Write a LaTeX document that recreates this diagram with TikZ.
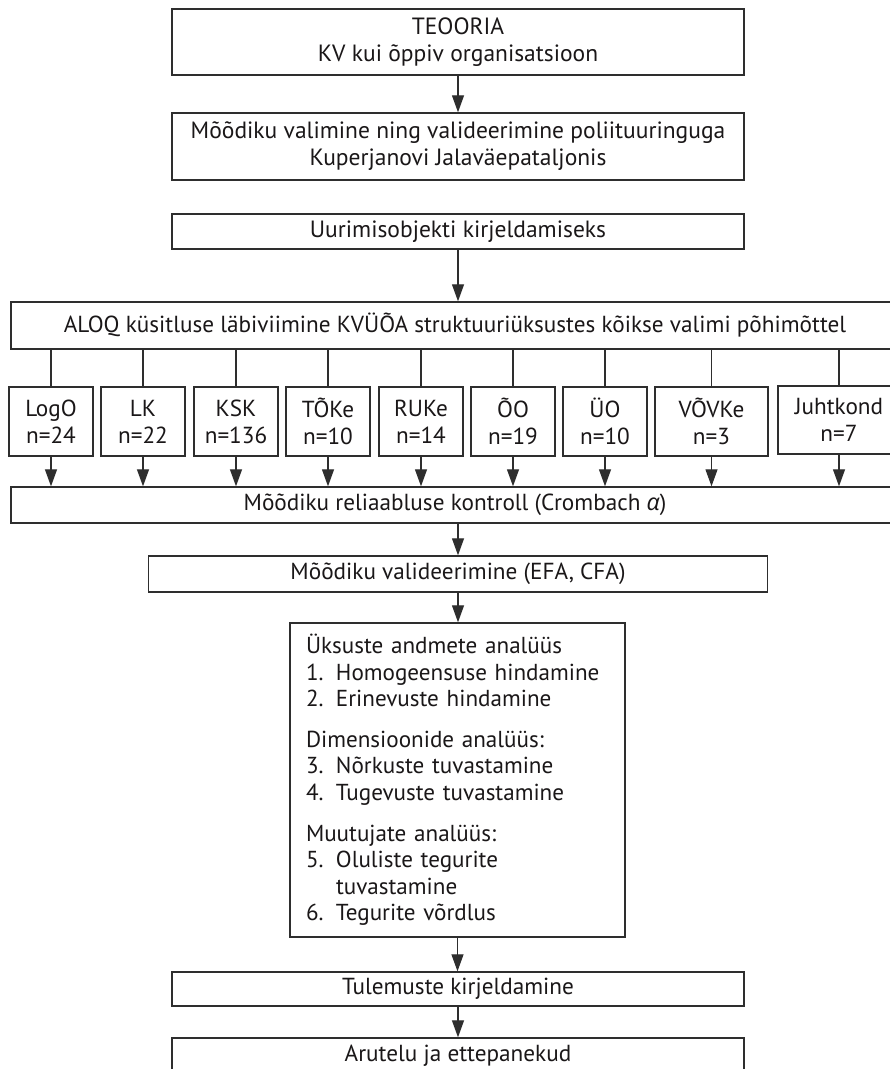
\documentclass[tikz,border=0pt]{standalone}
\usepackage{fontspec}
\setmainfont{PT Sans}
\newfontfamily\grkfont{Open Sans}
\usetikzlibrary{arrows.meta}
\definecolor{linec}{HTML}{2E2E2E}
\definecolor{txtc}{HTML}{1A1718}
\newcommand{\mainfs}{\fontsize{23.3}{27}\selectfont}
\newcommand{\topfs}{\fontsize{23.6}{27}\selectfont}
\newcommand{\anafs}{\fontsize{23.2}{26.7}\selectfont}
\newcommand{\itm}[1]{\makebox[30bp][l]{#1}}
\begin{document}
\begin{tikzpicture}[x=1bp,y=-1bp,
  box/.style={draw=linec, line width=1.4bp, inner sep=0pt, align=center, text=txtc, font=\mainfs},
  sbox/.style={box, minimum width=84bp, minimum height=69bp},
  conn/.style={draw=linec, line width=1.2bp},
  arr/.style={conn, -{Triangle[length=17bp,width=12bp]}}]
\useasboundingbox (0,0) rectangle (890,1069);
\clip (0,0) rectangle (890,1069);
\fill[white] (0,0) rectangle (890,1069);

\node[box, minimum width=572bp, minimum height=66bp, font=\topfs] (teo) at (458,42) {TEOORIA\\KV kui õppiv organisatsioon};
\node[box, minimum width=572bp, minimum height=67bp, font=\topfs] (mod) at (458,146.5) {Mõõdiku valimine ning valideerimine poliituuringuga\\Kuperjanovi Jalaväepataljonis};
\node[box, minimum width=572bp, minimum height=35bp, font=\topfs] (uur) at (458,231.5) {Uurimisobjekti kirjeldamiseks};
\node[box, minimum width=888bp, minimum height=47bp] (aloq) at (455,325.5) {ALOQ küsitluse läbiviimine KVÜÕA struktuuriüksustes kõikse valimi põhimõttel};

\node[sbox] (logo) at (51,421.5) {LogO\\n=24};
\node[sbox] (lk) at (143,421.5) {LK\\n=22};
\node[sbox] (ksk) at (236,421.5) {KSK\\n=136};
\node[sbox] (toke) at (328,421.5) {TÕKe\\n=10};
\node[sbox] (ruke) at (421,421.5) {RUKe\\n=14};
\node[sbox] (oo) at (513,421.5) {ÕO\\n=19};
\node[sbox] (uo) at (605,421.5) {ÜO\\n=10};
\node[sbox, minimum width=113bp] (vovke) at (711.5,421.5) {VÕVKe\\n=3};
\node[sbox, minimum width=122bp, minimum height=68bp] (juht) at (839,420) {Juhtkond\\n=7};

\node[box, minimum width=888bp, minimum height=36bp] (rel) at (455,505) {Mõõdiku reliaabluse kontroll (Crombach {\grkfont\itshape α})};
\node[box, minimum width=619bp, minimum height=36bp] (val) at (458,574) {Mõõdiku valideerimine (EFA, CFA)};
\node[box, minimum width=335bp, minimum height=314bp, align=left, text width=303bp, font=\anafs] (ana) at (457.5,780) {%
Üksuste andmete analüüs\\
\itm{1.}Homogeensuse hindamine\\
\itm{2.}Erinevuste hindamine\\[14bp]
Dimensioonide analüüs:\\
\itm{3.}Nõrkuste tuvastamine\\
\itm{4.}Tugevuste tuvastamine\\[14bp]
Muutujate analüüs:\\
\itm{5.}Oluliste tegurite\\
\hspace*{30bp}tuvastamine\\
\itm{6.}Tegurite võrdlus};
\node[box, minimum width=572bp, minimum height=34bp] (tul) at (458,989) {Tulemuste kirjeldamine};
\node[box, minimum width=572bp, minimum height=36bp] (aru) at (458,1056) {Arutelu ja ettepanekud};

\draw[arr] (teo.south) -- (mod.north);
\draw[arr] (uur.south) -- (uur.south |- aloq.north);
\foreach \n in {logo,lk,ksk,toke,ruke,oo,uo,vovke,juht}{
  \draw[conn] (\n.north |- aloq.south) -- (\n.north);
  \draw[arr] (\n.south) -- (\n.south |- rel.north);
}
\draw[arr] (rel.south -| val.north) -- (val.north);
\draw[arr] (val.south) -- (val.south |- ana.north);
\draw[arr] (ana.south) -- (ana.south |- tul.north);
\draw[arr] (tul.south) -- (aru.north);
\end{tikzpicture}
\end{document}
